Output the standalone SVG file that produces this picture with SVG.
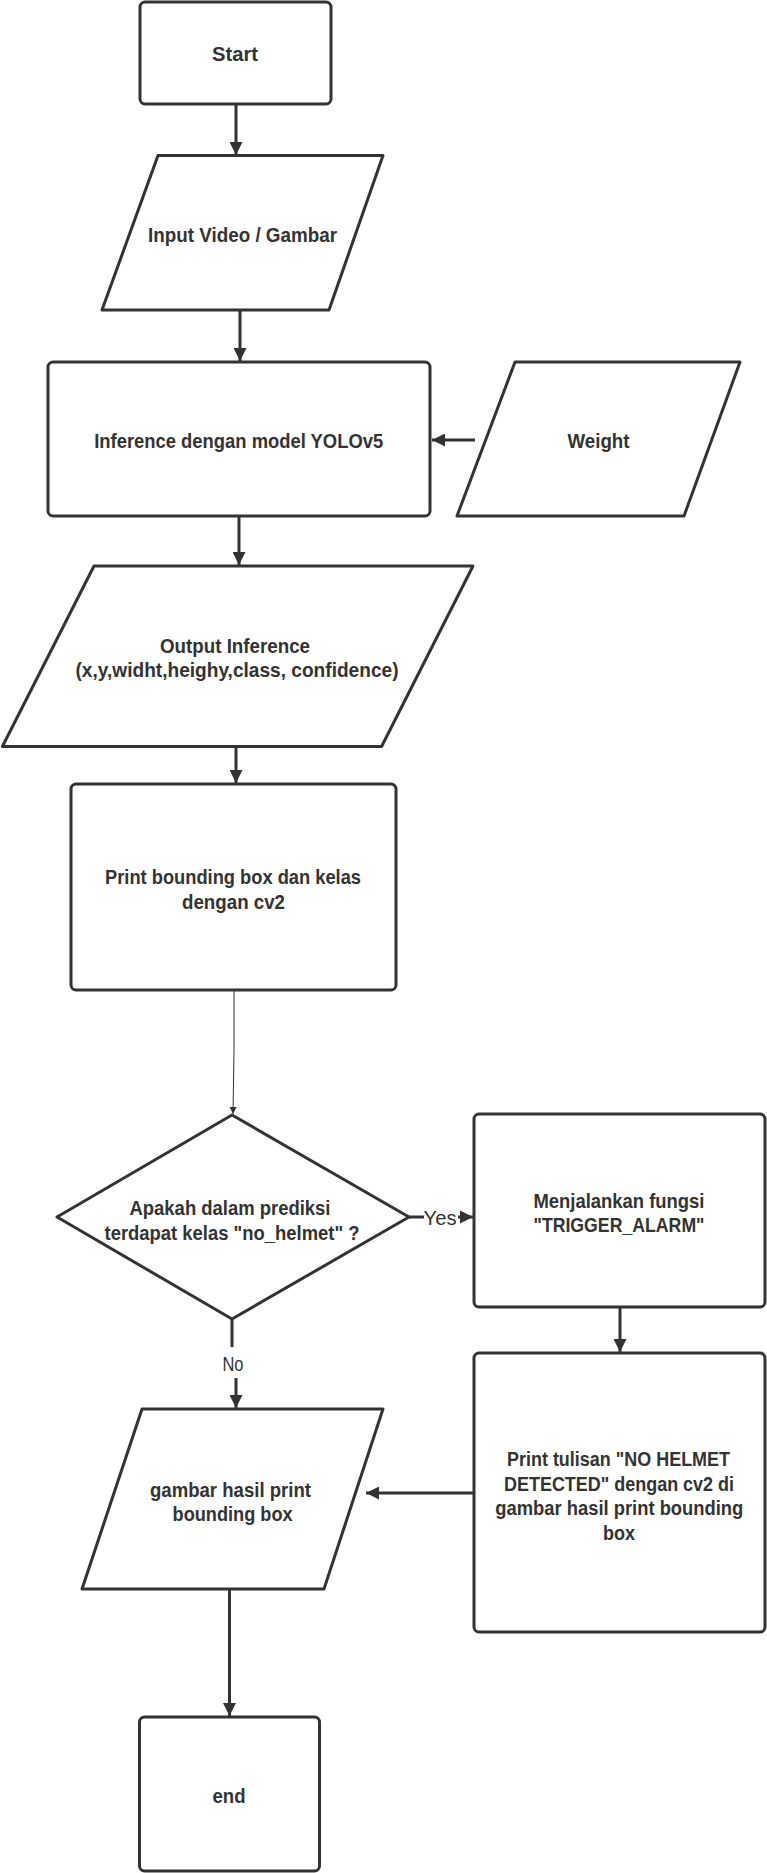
<svg xmlns="http://www.w3.org/2000/svg" width="767" height="1873" viewBox="0 0 767 1873">
<defs>
<style>
.shape{fill:#fff;stroke:#333;stroke-width:3;stroke-linejoin:round}
.t{font-family:"Liberation Sans","Arial",sans-serif;font-weight:bold;font-size:21px;fill:#333;text-anchor:middle}
.s{font-size:19.5px}
.lbl{font-family:"Liberation Sans","Arial",sans-serif;font-weight:normal;font-size:21px;fill:#333;text-anchor:middle}
.c{stroke:#333;stroke-width:3;fill:none}
.thin{stroke:#333;stroke-width:1;fill:none}
</style>
<marker id="ah" viewBox="0 0 10 10" refX="10" refY="5" markerWidth="13" markerHeight="13" markerUnits="userSpaceOnUse" orient="auto">
<path d="M0,0 L10,5 L0,10 z" fill="#333"/>
</marker>
<marker id="ahs" viewBox="0 0 10 10" refX="10" refY="5" markerWidth="7" markerHeight="7" markerUnits="userSpaceOnUse" orient="auto">
<path d="M0,0 L10,5 L0,10 z" fill="#333"/>
</marker>
</defs>
<rect width="767" height="1873" fill="#fff"/>

<g id="connectors">
<path class="c" d="M236,104 V155" marker-end="url(#ah)"/>
<path class="c" d="M240,310 V361" marker-end="url(#ah)"/>
<path class="c" d="M475,440 H432" marker-end="url(#ah)"/>
<path class="c" d="M239,516 V565" marker-end="url(#ah)"/>
<path class="c" d="M236,747 V783" marker-end="url(#ah)"/>
<path class="thin" d="M234,990 V1050 L233,1114" marker-end="url(#ahs)"/>
<path class="c" d="M409,1217 H424"/>
<path class="c" d="M458,1217 H473" marker-end="url(#ah)"/>
<text class="lbl" x="440" y="1225" textLength="33" lengthAdjust="spacingAndGlyphs">Yes</text>
<path class="c" d="M620,1307 V1352" marker-end="url(#ah)"/>
<path class="c" d="M474,1493 H366" marker-end="url(#ah)"/>
<path class="c" d="M232,1319 V1347"/>
<text class="lbl" x="233" y="1371" textLength="21" lengthAdjust="spacingAndGlyphs">No</text>
<path class="c" d="M236,1378 V1408" marker-end="url(#ah)"/>
<path class="c" d="M229.5,1589 V1716" marker-end="url(#ah)"/>
</g>

<g id="start">
<rect class="shape" x="140" y="2" width="191" height="102" rx="5"/>
<text class="t" x="235" y="61" textLength="46" lengthAdjust="spacingAndGlyphs">Start</text>
</g>

<g id="input">
<path class="shape" d="M158,155.5 L383,155.5 L329,310 L102,310 Z"/>
<text class="t" x="242.5" y="241.5" textLength="189" lengthAdjust="spacingAndGlyphs">Input Video / Gambar</text>
</g>

<g id="inference">
<rect class="shape" x="48" y="362" width="382" height="154" rx="5"/>
<text class="t" x="238.7" y="447.5" textLength="289" lengthAdjust="spacingAndGlyphs">Inference dengan model YOLOv5</text>
</g>

<g id="weight">
<path class="shape" d="M515,362 L740,362 L684,516 L457,516 Z"/>
<text class="t" x="598.5" y="447.5" textLength="62" lengthAdjust="spacingAndGlyphs">Weight</text>
</g>

<g id="output">
<path class="shape" d="M94,566 L473,566 L381.6,746.5 L2.4,746.5 Z"/>
<text class="t" x="235" y="652.5" textLength="150" lengthAdjust="spacingAndGlyphs">Output Inference</text>
<text class="t" x="237" y="676.5" textLength="323" lengthAdjust="spacingAndGlyphs">(x,y,widht,heighy,class, confidence)</text>
</g>

<g id="print-bbox">
<rect class="shape" x="71" y="784" width="325" height="206" rx="5"/>
<text class="t" x="233" y="883.5" textLength="256" lengthAdjust="spacingAndGlyphs">Print bounding box dan kelas</text>
<text class="t" x="233.5" y="908.5" textLength="103" lengthAdjust="spacingAndGlyphs">dengan cv2</text>
</g>

<g id="decision">
<path class="shape" d="M232,1115 L409,1217 L232,1319 L57,1217 Z"/>
<text class="t" x="230" y="1214.5" textLength="201" lengthAdjust="spacingAndGlyphs">Apakah dalam prediksi</text>
<text class="t" x="232" y="1239.5" textLength="255" lengthAdjust="spacingAndGlyphs">terdapat kelas "no_helmet" ?</text>
</g>

<g id="trigger">
<rect class="shape" x="474" y="1114" width="291" height="193" rx="5"/>
<text class="t" x="619" y="1207.5" textLength="171" lengthAdjust="spacingAndGlyphs">Menjalankan fungsi</text>
<text class="t" x="619" y="1231.5" textLength="171" lengthAdjust="spacingAndGlyphs">"TRIGGER_ALARM"</text>
</g>

<g id="print-text">
<rect class="shape" x="474" y="1353" width="291" height="279" rx="5"/>
<text class="t s" x="618.5" y="1465.5" textLength="223" lengthAdjust="spacingAndGlyphs">Print tulisan "NO HELMET</text>
<text class="t s" x="619" y="1490.5" textLength="230" lengthAdjust="spacingAndGlyphs">DETECTED" dengan cv2 di</text>
<text class="t s" x="619.3" y="1514.5" textLength="248" lengthAdjust="spacingAndGlyphs">gambar hasil print bounding</text>
<text class="t" x="619" y="1539.5" textLength="32" lengthAdjust="spacingAndGlyphs">box</text>
</g>

<g id="result">
<path class="shape" d="M142,1409 L383,1409 L324,1589 L82,1589 Z"/>
<text class="t" x="230.5" y="1496.5" textLength="161" lengthAdjust="spacingAndGlyphs">gambar hasil print</text>
<text class="t" x="232.6" y="1520.5" textLength="120" lengthAdjust="spacingAndGlyphs">bounding box</text>
</g>

<g id="end">
<rect class="shape" x="139.5" y="1717" width="180" height="154" rx="5"/>
<text class="t" x="229" y="1802.5" textLength="33" lengthAdjust="spacingAndGlyphs">end</text>
</g>
</svg>
